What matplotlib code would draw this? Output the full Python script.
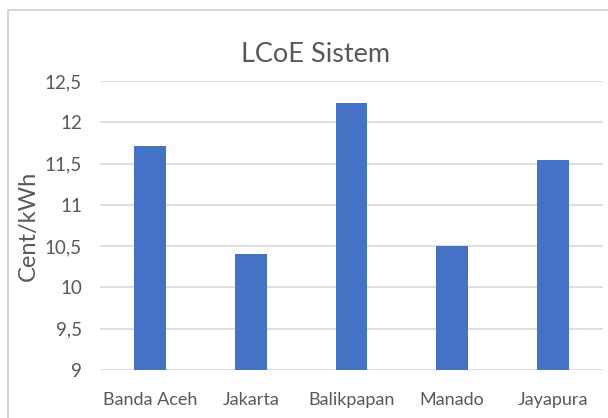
import matplotlib
matplotlib.use("Agg")
import matplotlib.pyplot as plt
from matplotlib.patches import Rectangle
from matplotlib.ticker import FixedLocator, FuncFormatter

cities = ["Banda Aceh", "Jakarta", "Balikpapan", "Manado", "Jayapura"]
lcoe = [11.71, 10.40, 12.23, 10.50, 11.54]
y_ticks = [9, 9.5, 10, 10.5, 11, 11.5, 12, 12.5]

text_color = "#595959"
grid_color = "#d9d9d9"
bar_color = "#4472C4"

plt.rcParams["font.family"] = ["Lato", "DejaVu Sans"]

fig = plt.figure(figsize=(6.08, 4.18), dpi=100)
fig.patch.set_facecolor("white")

# chart frame
fig.patches.append(Rectangle((8 / 608, -0.1), 1.2, 1 - 10 / 418 + 0.1,
                             transform=fig.transFigure, fill=False,
                             edgecolor="#d0d0d0", linewidth=1.2))

ax = fig.add_axes([100 / 608, 1 - 370 / 418, 503 / 608, 289 / 418])
x = range(len(cities))
ax.bar(x, lcoe, width=0.315, color=bar_color, zorder=3)
ax.set_ylim(9, 12.5)
ax.set_xlim(-0.5, len(cities) - 0.5)
ax.yaxis.set_major_locator(FixedLocator(y_ticks))
ax.yaxis.set_major_formatter(FuncFormatter(lambda v, p: f"{v:g}".replace(".", ",")))
ax.set_xticks(list(x))
ax.set_xticklabels(cities)
ax.grid(axis="y", color=grid_color, linewidth=1.2, zorder=0)
for s in ax.spines.values():
    s.set_visible(False)
ax.tick_params(length=0, colors=text_color)
ax.tick_params(axis="y", pad=13, labelsize=13.5)
ax.tick_params(axis="x", pad=16, labelsize=13)
ax.set_ylabel("Cent/kWh", color=text_color, fontsize=17, labelpad=4)
fig.text(316 / 608, 1 - 55 / 418, "LCoE Sistem", ha="center", va="center",
         color=text_color, fontsize=19.5)

fig.savefig("out.png", dpi=100, facecolor="white")
